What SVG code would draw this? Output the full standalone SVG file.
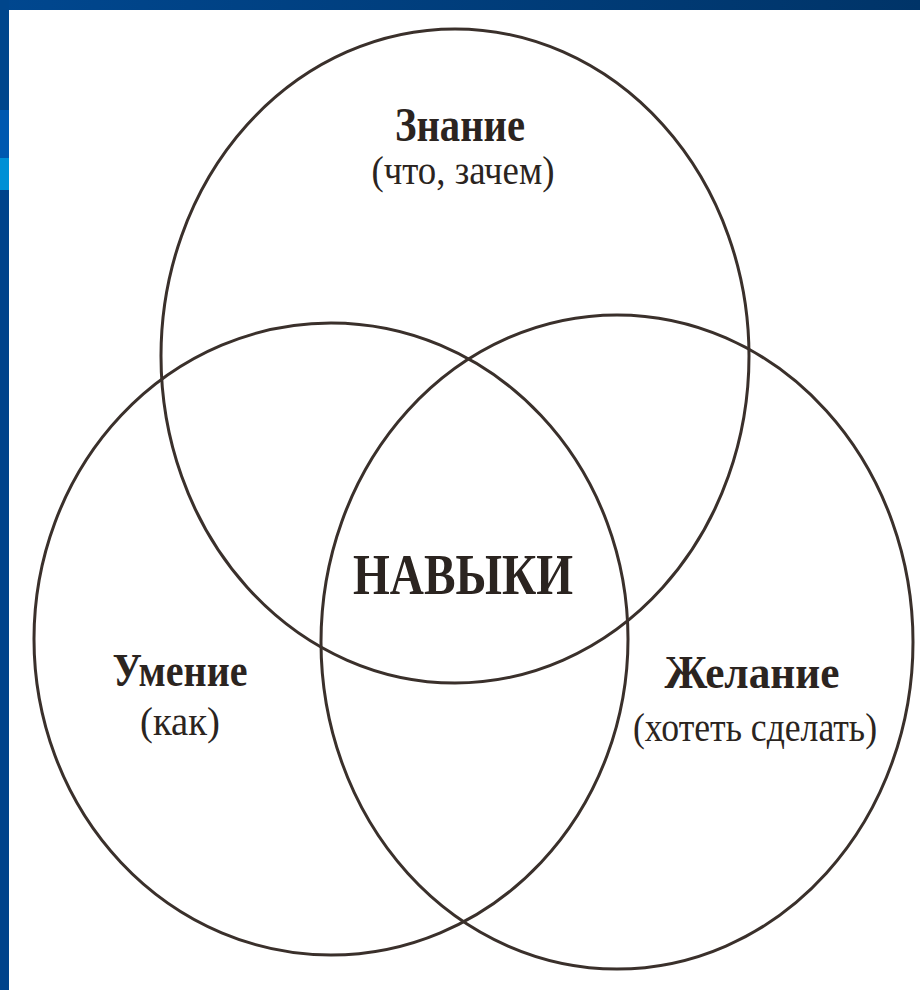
<svg xmlns="http://www.w3.org/2000/svg" width="920" height="990" viewBox="0 0 920 990">
  <defs>
    <linearGradient id="topbar" x1="0" y1="0" x2="1" y2="0">
      <stop offset="0" stop-color="#00478f"/>
      <stop offset="1" stop-color="#003468"/>
    </linearGradient>
    <style>
      .ring { fill: none; stroke: #3a302b; stroke-width: 3; }
      .title { font-family: "Liberation Serif", "DejaVu Serif", serif; font-weight: bold; fill: #2b2420; text-anchor: middle; }
      .sub { font-family: "Liberation Serif", "DejaVu Serif", serif; fill: #2b2420; text-anchor: middle; }
    </style>
  </defs>
  <rect x="0" y="0" width="920" height="990" fill="#ffffff"/>
  <!-- blue frame -->
  <rect x="0" y="0" width="920" height="10" fill="url(#topbar)"/>
  <rect x="0" y="0" width="9" height="110" fill="#00468c"/>
  <rect x="0" y="110" width="9" height="48" fill="#0058b0"/>
  <rect x="0" y="158" width="9" height="32" fill="#0090d6"/>
  <rect x="0" y="190" width="9" height="800" fill="#00428a"/>

  <g id="znanie">
    <ellipse class="ring" cx="455" cy="356" rx="294" ry="327"/>
    <text class="title" x="460" y="141" font-size="48" textLength="130" lengthAdjust="spacingAndGlyphs">Знание</text>
    <text class="sub" x="463" y="184" font-size="40" textLength="183" lengthAdjust="spacingAndGlyphs">(что, зачем)</text>
  </g>
  <g id="umenie">
    <ellipse class="ring" cx="331" cy="639" rx="297" ry="316"/>
    <text class="title" x="180" y="686" font-size="46" textLength="135" lengthAdjust="spacingAndGlyphs">Умение</text>
    <text class="sub" x="180" y="735" font-size="40" textLength="80" lengthAdjust="spacingAndGlyphs">(как)</text>
  </g>
  <g id="zhelanie">
    <ellipse class="ring" cx="617" cy="642" rx="296" ry="327"/>
    <text class="title" x="752" y="688" font-size="46" textLength="175" lengthAdjust="spacingAndGlyphs">Желание</text>
    <text class="sub" x="755" y="741" font-size="40" textLength="244" lengthAdjust="spacingAndGlyphs">(хотеть сделать)</text>
  </g>
  <g id="navyki">
    <text class="title" x="463" y="594" font-size="58" textLength="220" lengthAdjust="spacingAndGlyphs">НАВЫКИ</text>
  </g>
</svg>
